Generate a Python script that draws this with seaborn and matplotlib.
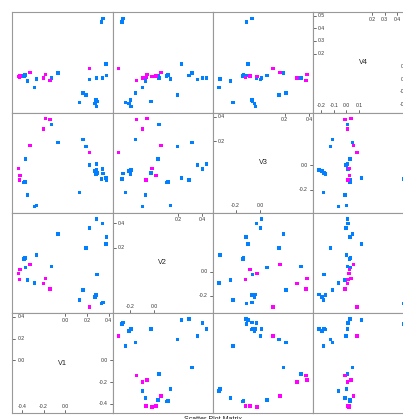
import matplotlib
matplotlib.use("Agg")
import matplotlib.pyplot as plt
import matplotlib.transforms as mtransforms
import numpy as np
import pandas as pd
import seaborn as sns

# values, one entry per point (22 blue, then 8 magenta)
v1 = [0.349, 0.333, 0.287, 0.272, 0.284, 0.291, 0.373, 0.379, 0.343, 0.288, 0.224,
      0.192, 0.132, 0.165, -0.066, -0.128, -0.264, -0.283, -0.346, -0.365, -0.380, -0.372,
      0.224, -0.141, -0.200, -0.183, -0.327, -0.422, -0.431, -0.419]
v2 = [-0.255, -0.263, -0.190, -0.208, -0.192, -0.025, 0.230, 0.288, 0.400, 0.436, 0.362,
      0.195, -0.236, -0.151, 0.313, 0.044, 0.137, -0.093, -0.069, 0.033, 0.104, 0.115,
      -0.291, -0.145, -0.096, -0.058, 0.059, -0.066, -0.016, 0.019]
v3 = [-0.066, -0.112, -0.036, -0.045, -0.068, -0.061, -0.101, -0.117, -0.030, 0.013, 0.003,
      0.156, -0.220, 0.213, 0.190, 0.336, -0.328, -0.337, -0.242, 0.055, -0.140, -0.137,
      0.105, 0.377, 0.300, 0.383, 0.164, -0.120, -0.024, -0.083]
v4 = [0.477, 0.448, -0.214, -0.193, -0.163, -0.175, 0.118, 0.028, 0.011, 0.010, -0.004,
      -0.126, -0.182, -0.108, 0.047, 0.010, 0.002, -0.064, -0.013, 0.029, 0.025, 0.033,
      0.085, -0.011, 0.007, 0.037, 0.054, 0.013, 0.020, 0.025]
group = ['g1'] * 22 + ['g2'] * 8

varnames = ['V1', 'V2', 'V3', 'V4']
tick_vals = {
    'V1': [-0.4, -0.2, 0.0, 0.2, 0.4],
    'V2': [-0.2, 0.0, 0.2, 0.4],
    'V3': [-0.2, 0.0, 0.2, 0.4],
    'V4': [-0.2, -0.1, 0.0, 0.1, 0.2, 0.3, 0.4, 0.5],
}
title = 'Scatter Plot Matrix'

df = pd.DataFrame({'V1': v1, 'V2': v2, 'V3': v3, 'V4': v4, 'grp': group})
pal = {'g1': '#0080ff', 'g2': '#ff00ff'}

sns.set_theme(style='white')
plt.rcParams['font.family'] = ['Liberation Sans', 'DejaVu Sans']

# lattice style limits: data range padded 7% each side
lims = {}
for v in varnames:
    lo, hi = df[v].min(), df[v].max()
    pad = 0.07 * (hi - lo)
    lims[v] = (lo - pad, hi + pad)

W, H = 403, 419
fig = plt.figure(figsize=(W / 100, H / 100), dpi=100)
x0, y0, step = 12.3, 12.3, 100.25
border = '#999999'
tcol = '#333333'
tfs = 3.7
tl = 3.0 / step  # tick length, axes fraction

for r in range(4):
    for c in range(4):
        ax = fig.add_axes([(x0 + c * step) / W, 1 - (y0 + (r + 1) * step) / H, step / W, step / H])
        xv = varnames[c]
        yv = varnames[3 - r]
        ax.set_xticks([])
        ax.set_yticks([])
        for s in ax.spines.values():
            s.set_color(border)
            s.set_linewidth(0.8)
        if r + c == 3:
            ax.set_xlim(*lims[xv])
            ax.set_ylim(*lims[xv])
            ax.text(0.5, 0.5, xv, transform=ax.transAxes, ha='center', va='center',
                    fontsize=5.2, color='#222222')
            at = tick_vals[xv]
            n = len(at)
            k = int(np.ceil(n / 2))
            lower = at[:k]
            upper = at[n - k:]
            bx = mtransforms.blended_transform_factory(ax.transData, ax.transAxes)
            by = mtransforms.blended_transform_factory(ax.transAxes, ax.transData)
            for t in lower:
                lab = f'{t:.1f}'
                ax.plot([t, t], [0, tl], transform=bx, color=tcol, lw=0.5)
                ax.text(t, tl + 0.015, lab, transform=bx, ha='center', va='bottom',
                        fontsize=tfs, color=tcol)
                ax.plot([1, 1 - tl], [t, t], transform=by, color=tcol, lw=0.5)
                ax.text(1 - tl - 0.02, t, lab, transform=by, ha='right', va='center',
                        fontsize=tfs, color=tcol)
            for t in upper:
                lab = f'{t:.1f}'
                ax.plot([t, t], [1, 1 - tl], transform=bx, color=tcol, lw=0.5)
                ax.text(t, 1 - tl - 0.015, lab, transform=bx, ha='center', va='top',
                        fontsize=tfs, color=tcol)
                ax.plot([0, tl], [t, t], transform=by, color=tcol, lw=0.5)
                ax.text(tl + 0.02, t, lab, transform=by, ha='left', va='center',
                        fontsize=tfs, color=tcol)
        else:
            sns.scatterplot(data=df, x=xv, y=yv, hue='grp', palette=pal, ax=ax,
                            marker='s', s=6.5, linewidth=0, legend=False)
            ax.set_xlim(*lims[xv])
            ax.set_ylim(*lims[yv])
            ax.set_xlabel('')
            ax.set_ylabel('')
            ax.set_xticks([])
            ax.set_yticks([])

fig.text((x0 + 2 * step) / W, 1 - 416.0 / H, title, ha='center', va='top',
         fontsize=5, color='#222222')

fig.savefig('out.png', dpi=100)
